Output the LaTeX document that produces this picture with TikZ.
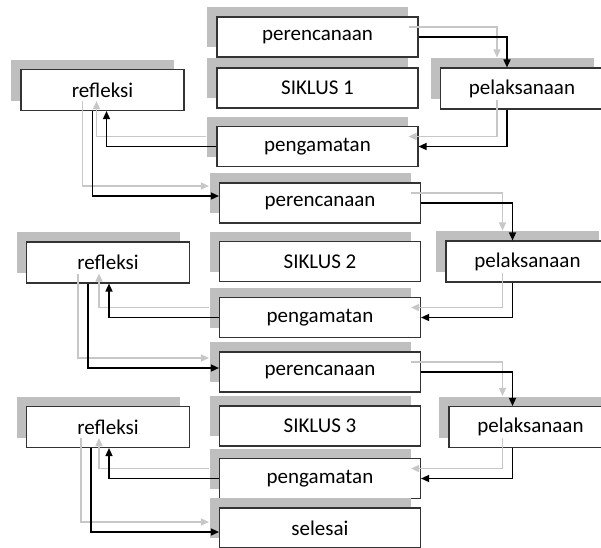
\documentclass[tikz,border=0pt]{standalone}
\usepackage{fontspec}
\setmainfont{Carlito}
\usepackage{tikz}
\usetikzlibrary{arrows.meta,shadows}

\tikzset{
	blok/.style={draw=black!80, line width=1.1pt, fill=white, inner sep=0pt,
		minimum width=201pt, minimum height=40pt,
		font=\fontsize{21}{25}\selectfont,
		general shadow={fill=black!25, shadow xshift=-10pt, shadow yshift=10pt}},
	sisi/.style={blok, minimum width=163pt, minimum height=41pt},
	hitam/.style={draw=black, line width=1.4pt, -{Triangle[length=8pt,width=7pt]}},
	abu/.style={draw=black!22, line width=1.4pt, -{Triangle[length=8pt,width=7pt]},
		transform canvas={xshift=-10pt,yshift=10pt}}
}

\begin{document}
\begin{tikzpicture}[x=1pt,y=-1pt]
			\useasboundingbox (0,0) rectangle (601,547);
			\clip (0,0) rectangle (601,547);
			\node[blok] (p1) at (317.5,37) {perencanaan};
			\node[blok] (s1) at (317.5,88) {SIKLUS 1};
			\node[blok] (g1) at (317.5,146.5) {pengamatan};
			\node[sisi] (r1) at (102.5,90) {refleksi};
			\node[sisi] (l1) at (522,88.5) {pelaksanaan};
			\node[blok] (p2) at (320,203) {perencanaan};
			\node[blok] (s2) at (320,261.5) {SIKLUS 2};
			\node[blok] (g2) at (320,317.5) {pengamatan};
			\node[sisi] (r2) at (108,262.5) {refleksi};
			\node[sisi] (l2) at (527.5,261.5) {pelaksanaan};
			\node[blok] (p3) at (320,372) {perencanaan};
			\node[blok] (s3) at (320,426) {SIKLUS 3};
			\node[blok] (g3) at (320,478.5) {pengamatan};
			\node[sisi] (r3) at (108,427) {refleksi};
			\node[sisi] (l3) at (530.5,427) {pelaksanaan};
			\node[blok] (sl) at (320,528) {selesai};
			\draw[abu] (p1.east) -| ([xshift=-15pt]l1.north);
			\draw[hitam] (p1.east) -| ([xshift=-15pt]l1.north);
			\draw[abu] ([xshift=-15pt]l1.south) |- (g1.east);
			\draw[hitam] ([xshift=-15pt]l1.south) |- (g1.east);
			\draw[abu] (g1.west) -| ([xshift=4pt]r1.south);
			\draw[hitam] (g1.west) -| ([xshift=4pt]r1.south);
			\draw[abu] ([xshift=-10pt]r1.south) |- ([yshift=7pt]p2.west);
			\draw[hitam] ([xshift=-10pt]r1.south) |- ([yshift=7pt]p2.west);
			\draw[abu] (p2.east) -| ([xshift=-15pt]l2.north);
			\draw[hitam] (p2.east) -| ([xshift=-15pt]l2.north);
			\draw[abu] ([xshift=-15pt]l2.south) |- (g2.east);
			\draw[hitam] ([xshift=-15pt]l2.south) |- (g2.east);
			\draw[abu] (g2.west) -| ([xshift=1pt]r2.south);
			\draw[hitam] (g2.west) -| ([xshift=1pt]r2.south);
			\draw[abu] ([xshift=-20pt]r2.south) |- ([yshift=4pt]p3.west);
			\draw[hitam] ([xshift=-20pt]r2.south) |- ([yshift=4pt]p3.west);
			\draw[abu] (p3.east) -| ([xshift=-18pt]l3.north);
			\draw[hitam] (p3.east) -| ([xshift=-18pt]l3.north);
			\draw[abu] ([xshift=-18pt]l3.south) |- (g3.east);
			\draw[hitam] ([xshift=-18pt]l3.south) |- (g3.east);
			\draw[abu] (g3.west) -| ([xshift=1pt]r3.south);
			\draw[hitam] (g3.west) -| ([xshift=1pt]r3.south);
			\draw[abu] ([xshift=-17pt]r3.south) |- ([yshift=-4pt]sl.west);
			\draw[hitam] ([xshift=-17pt]r3.south) |- ([yshift=-4pt]sl.west);
\end{tikzpicture}
\end{document}
